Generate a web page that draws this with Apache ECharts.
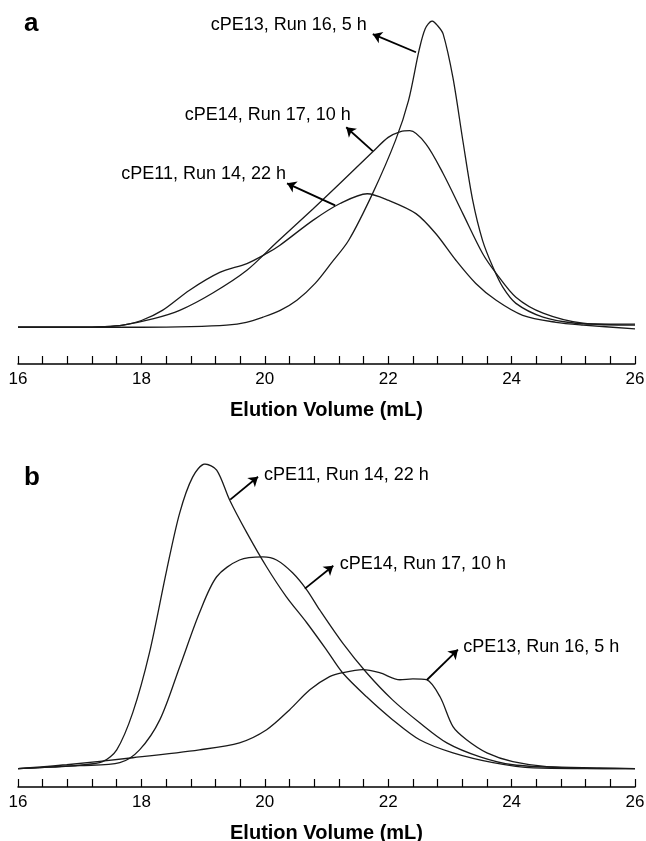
<!DOCTYPE html>
<html>
<head>
<meta charset="utf-8">
<script src="https://cdn.jsdelivr.net/npm/echarts@6/dist/echarts.min.js"></script>
<style>
  html, body { margin: 0; padding: 0; background: #fff; }
  #chart { width: 646px; height: 841px; }
</style>
</head>
<body>
<div id="chart"></div>
<script>
var FONT = '"Liberation Sans", Arial, Helvetica, sans-serif';

// panel a : [elution volume (mL), detector response (relative)]
var a_cPE13 = [[16, 0], [17, 0], [18, 0], [18.8, 0.2], [19.38, 0.7], [19.7, 1.6], [19.97, 3.3], [20.25, 5.5],
    [20.52, 8.8], [20.82, 14.4], [21.08, 21], [21.36, 28.4], [21.75, 43.8], [22.12, 61.1], [22.33, 74.1],
    [22.5, 90.4], [22.6, 97.5], [22.71, 100], [22.8, 98.5], [22.89, 95.8], [23.05, 81.4], [23.21, 60.9],
    [23.37, 41.4], [23.53, 28.3], [23.7, 19.5], [23.86, 13], [24.07, 7.8], [24.51, 3.3], [25.04, 1.3],
    [25.5, 1], [26, 1]];
var a_cPE14 = [[16, 0], [17, 0], [17.4, 0.2], [17.7, 0.7], [18.2, 2.8], [18.62, 5.5], [19.15, 11.1],
    [19.71, 18.6], [20.19, 27.7], [20.78, 38.6], [21.22, 47], [21.75, 57.3], [22, 62], [22.2, 63.9],
    [22.35, 64.2], [22.61, 59.9], [22.89, 50.2], [23.21, 37.1], [23.53, 24.1], [23.75, 17.6], [24.07, 9.8],
    [24.51, 4.6], [25.16, 1.3], [26, 0.7]];
var a_cPE11 = [[16, 0], [17, 0], [17.4, 0.2], [17.7, 0.7], [18, 2.2], [18.34, 5.5], [18.78, 12.1],
    [19.27, 17.9], [19.71, 20.8], [20.03, 24.1], [20.24, 26.7], [20.78, 34.9], [21.22, 40.4], [21.66, 43.6],
    [22.01, 41.4], [22.45, 37.1], [22.77, 30.6], [23.1, 21.8], [23.42, 14.3], [23.75, 8.8], [24.18, 3.9],
    [24.72, 1.6], [25.16, 0.7], [26, -0.5]];

// panel b
var b_cPE11 = [[16, 0], [16.5, 0.5], [17, 1.2], [17.37, 2.3], [17.6, 6.2], [17.86, 18.4], [18.13, 38],
    [18.41, 65.2], [18.62, 83.9], [18.83, 95.7], [19.03, 100], [19.22, 98], [19.43, 88.2], [19.71, 77.4],
    [20.03, 66.2], [20.35, 56.4], [20.68, 47.9], [21, 39], [21.26, 31.5], [21.65, 23.6], [22.07, 16.1],
    [22.51, 9.5], [23.05, 5.2], [23.7, 2], [24.35, 0.3], [26, 0]];
var b_cPE14 = [[16, 0], [16.5, 0.5], [17, 1], [17.65, 2], [17.97, 6.2], [18.3, 16.1], [18.62, 33.4],
    [18.94, 51.1], [19.22, 63], [19.59, 68.5], [19.97, 69.5], [20.19, 68.5], [20.45, 64.3], [20.68, 58.7],
    [20.89, 52.1], [21.26, 41.3], [21.65, 31.5], [22.07, 22.6], [22.51, 15.1], [22.95, 8.5], [23.49, 3.9],
    [24.02, 1.3], [24.89, 0.3], [26, 0]];
var b_cPE13 = [[16, 0], [16.79, 1.3], [17.86, 3.6], [18.94, 6.2], [19.59, 8.5], [20.03, 12.8], [20.4, 19.3],
    [20.73, 25.9], [21.05, 30.2], [21.26, 31.5], [21.59, 32.5], [21.86, 31.5], [22.19, 29.2], [22.4, 29.5],
    [22.62, 29.2], [22.84, 23.6], [23.05, 13.8], [23.27, 9.5], [23.6, 5.2], [24.02, 2.3], [24.57, 0.7],
    [25.43, 0.3], [26, 0]];

var sampleNames = ['cPE13, Run 16, 5 h', 'cPE14, Run 17, 10 h', 'cPE11, Run 14, 22 h'];

// arrow (from -> to) and label anchor, in data units
var a_notes = [
    { from: [22.45, 89.8], to: [21.75, 95.7], at: [21.67, 98.6], side: 'left' },
    { from: [21.75, 57.5], to: [21.32, 65.3], at: [21.41, 69.2], side: 'left' },
    { from: [21.14, 39.8], to: [20.36, 47.0], at: [20.36, 50.0], side: 'left' }
];
var b_notes = [
    { from: [22.63, 29.2], to: [23.13, 39.1], at: [23.2, 40.0], side: 'right' },
    { from: [20.65, 59.1], to: [21.11, 66.6], at: [21.2, 67.3], side: 'right' },
    { from: [19.44, 88.3], to: [19.89, 95.8], at: [19.97, 96.5], side: 'right' }
];

function curve(name, data, idx, note) {
    return {
        name: name,
        type: 'line',
        xAxisIndex: idx,
        yAxisIndex: idx,
        data: data,
        symbol: 'none',
        smooth: 0.3,
        silent: true,
        lineStyle: { color: '#1a1a1a', width: 1.3 },
        markLine: {
            silent: true,
            symbol: ['none', 'arrow'],
            symbolSize: 9,
            label: { show: false },
            lineStyle: { color: '#000', width: 1.8, type: 'solid' },
            data: [[{ coord: note.from }, { coord: note.to }]]
        },
        markPoint: {
            silent: true,
            symbol: 'circle',
            symbolSize: 0,
            data: [{
                coord: note.at,
                label: {
                    show: true,
                    position: note.side,
                    distance: 1,
                    formatter: name,
                    color: '#000',
                    fontSize: 18,
                    fontFamily: FONT
                }
            }]
        }
    };
}

function xAxis(idx) {
    return {
        gridIndex: idx,
        type: 'value',
        min: 16,
        max: 26,
        interval: 0.4,
        name: 'Elution Volume (mL)',
        nameLocation: 'middle',
        nameGap: 36,
        nameTextStyle: { fontFamily: FONT, fontSize: 20, fontWeight: 'bold', color: '#000' },
        axisLine: { show: true, onZero: false, lineStyle: { color: '#000', width: 1.5 } },
        axisTick: { show: true, inside: true, length: 8, lineStyle: { color: '#000', width: 1.2 } },
        axisLabel: {
            fontFamily: FONT, fontSize: 17, color: '#000', margin: 7,
            formatter: function (v) {
                var r = Math.round(v * 10) / 10;
                return (Math.abs(r / 2 - Math.round(r / 2)) < 1e-6) ? String(r) : '';
            }
        },
        splitLine: { show: false }
    };
}

var chart = echarts.init(document.getElementById('chart'), null, { renderer: 'canvas' });

var option = {
    animation: false,
    backgroundColor: '#fff',
    grid: [
        { left: 18, right: 11, top: 21, height: 343, outerBoundsMode: 'none' },
        { left: 18, right: 11, top: 464, height: 323, outerBoundsMode: 'none' }
    ],
    xAxis: [xAxis(0), xAxis(1)],
    yAxis: [
        { gridIndex: 0, type: 'value', min: -12, max: 100, show: false },
        { gridIndex: 1, type: 'value', min: -6, max: 100, show: false }
    ],
    graphic: [
        { type: 'text', x: 24, y: 24, style: { text: 'a', font: 'bold 26px ' + FONT, fill: '#000', verticalAlign: 'middle' } },
        { type: 'text', x: 24, y: 478, style: { text: 'b', font: 'bold 26px ' + FONT, fill: '#000', verticalAlign: 'middle' } }
    ],
    series: [
        curve(sampleNames[0], a_cPE13, 0, a_notes[0]),
        curve(sampleNames[1], a_cPE14, 0, a_notes[1]),
        curve(sampleNames[2], a_cPE11, 0, a_notes[2]),
        curve(sampleNames[0], b_cPE13, 1, b_notes[0]),
        curve(sampleNames[1], b_cPE14, 1, b_notes[1]),
        curve(sampleNames[2], b_cPE11, 1, b_notes[2])
    ]
};

chart.setOption(option);
</script>
</body>
</html>
